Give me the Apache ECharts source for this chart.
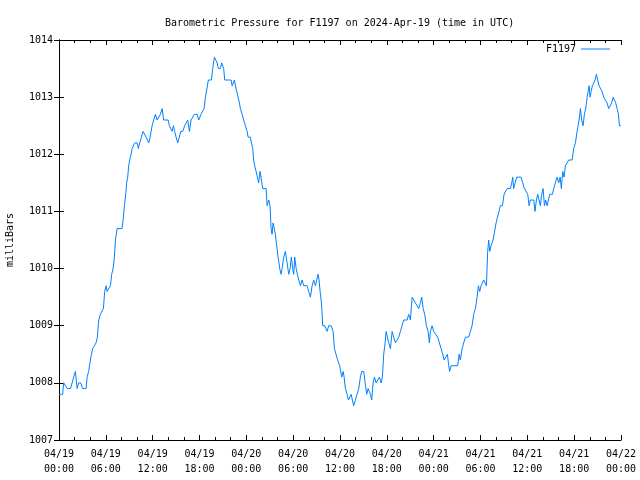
<!DOCTYPE html>
<html>
<head>
<meta charset="utf-8">
<script src="https://cdn.jsdelivr.net/npm/echarts@6/dist/echarts.min.js"></script>
<style>html,body{margin:0;padding:0;background:#fff;}#c{width:640px;height:480px;}</style>
</head>
<body>
<div id="c"></div>
<script>
// hours since 2024-04-19 00:00 UTC
const hours = [0.00,0.47,0.60,1.04,1.46,1.68,1.88,2.10,2.32,2.52,2.78,3.04,3.47,3.60,3.80,4.02,4.15,4.32,4.54,4.75,4.92,5.09,5.30,5.52,5.69,5.85,6.03,6.16,6.37,6.59,6.75,6.93,7.10,7.23,7.35,7.44,8.08,8.25,8.38,8.55,8.67,8.80,8.93,9.06,9.24,9.37,9.53,9.70,10.01,10.17,10.34,10.56,10.77,10.94,11.16,11.36,11.49,11.67,11.93,12.13,12.35,12.57,12.77,12.99,13.21,13.41,13.98,14.14,14.49,14.66,14.82,15.00,15.21,15.42,15.59,15.85,16.10,16.49,16.71,16.92,17.13,17.35,17.69,17.90,18.03,18.20,18.41,18.59,18.76,18.97,19.14,19.52,19.69,19.91,20.13,20.26,20.42,20.68,20.84,20.97,21.10,21.23,22.05,22.18,22.30,22.47,22.60,22.77,22.94,23.11,23.24,23.46,23.66,23.88,24.10,24.23,24.52,24.65,24.82,24.94,25.07,25.25,25.42,25.58,25.76,25.93,26.10,26.53,26.66,26.87,27.04,27.17,27.30,27.43,27.56,27.72,27.89,28.07,28.28,28.45,28.58,28.79,29.00,29.22,29.43,29.61,29.77,29.94,30.07,30.20,30.38,30.54,30.71,30.93,31.14,31.35,31.78,31.99,32.21,32.43,32.63,32.85,33.01,33.19,33.32,33.45,33.62,33.71,33.78,34.04,34.35,34.55,34.86,35.12,35.28,35.50,35.70,35.96,36.22,36.40,36.53,36.69,36.91,37.08,37.24,37.42,37.59,37.75,37.97,38.19,38.40,38.61,38.78,39.04,39.22,39.42,39.60,39.77,39.89,40.06,40.24,40.41,40.63,40.83,41.05,41.27,41.43,41.60,41.78,41.91,42.07,42.24,42.46,42.68,42.88,43.10,43.32,43.52,43.74,43.96,44.16,44.38,44.60,44.80,45.02,45.24,45.44,45.66,45.88,46.08,46.30,46.47,46.65,46.85,47.07,47.29,47.45,47.58,47.80,48.00,48.22,48.52,48.73,48.95,49.16,49.34,49.54,49.76,49.93,50.05,50.23,51.08,51.26,51.42,51.64,51.85,52.07,52.49,52.71,52.92,53.13,53.35,53.56,53.73,53.90,54.08,54.41,54.63,54.76,54.92,55.05,55.18,55.36,55.61,55.82,56.00,56.17,56.38,56.55,56.81,57.02,57.23,57.41,57.83,58.00,58.13,58.25,58.43,58.64,59.20,59.41,59.62,59.84,60.05,60.23,60.39,60.61,60.82,60.99,61.16,61.33,61.51,61.67,61.84,62.02,62.19,62.35,62.53,62.70,62.86,63.21,63.38,63.60,63.81,64.02,64.20,64.36,64.53,64.71,64.87,65.09,65.30,65.74,65.94,66.16,66.38,66.50,66.63,66.80,66.96,67.14,67.31,67.48,67.66,67.79,67.91,68.04,68.17,68.34,68.50,68.68,68.85,69.01,69.19,69.36,69.58,69.78,70.00,70.22,70.42,70.64,70.81,70.99,71.15,71.32,71.50,71.67,71.80,72.00];
const pressure = [1007.8,1007.8,1008.0,1007.9,1007.9,1008.0,1008.1,1008.2,1007.9,1008.0,1008.0,1007.9,1007.9,1008.1,1008.2,1008.4,1008.5,1008.6,1008.6,1008.7,1008.8,1009.1,1009.2,1009.2,1009.3,1009.6,1009.7,1009.6,1009.6,1009.7,1009.9,1010.0,1010.2,1010.5,1010.6,1010.7,1010.7,1010.9,1011.1,1011.3,1011.5,1011.6,1011.8,1011.9,1012.0,1012.1,1012.1,1012.2,1012.2,1012.1,1012.2,1012.3,1012.4,1012.4,1012.3,1012.3,1012.2,1012.3,1012.5,1012.6,1012.7,1012.6,1012.6,1012.7,1012.8,1012.6,1012.6,1012.5,1012.4,1012.5,1012.4,1012.3,1012.2,1012.3,1012.4,1012.4,1012.5,1012.6,1012.4,1012.6,1012.6,1012.7,1012.7,1012.6,1012.6,1012.7,1012.7,1012.8,1013.0,1013.0,1013.3,1013.3,1013.5,1013.7,1013.7,1013.6,1013.5,1013.5,1013.6,1013.6,1013.5,1013.3,1013.3,1013.2,1013.2,1013.3,1013.2,1013.1,1013.0,1012.9,1012.8,1012.7,1012.6,1012.5,1012.4,1012.3,1012.3,1012.2,1012.1,1011.9,1011.8,1011.7,1011.7,1011.5,1011.7,1011.7,1011.4,1011.4,1011.1,1011.2,1011.1,1010.7,1010.6,1010.8,1010.8,1010.6,1010.4,1010.2,1010.0,1009.9,1010.0,1010.2,1010.3,1010.1,1009.9,1010.0,1010.2,1010.0,1009.9,1010.2,1010.0,1009.9,1009.8,1009.7,1009.8,1009.7,1009.7,1009.6,1009.5,1009.7,1009.8,1009.7,1009.7,1009.9,1009.8,1009.6,1009.4,1009.2,1009.0,1009.0,1008.9,1009.0,1009.0,1008.9,1008.6,1008.6,1008.4,1008.3,1008.1,1008.2,1008.1,1007.9,1007.8,1007.7,1007.7,1007.8,1007.7,1007.6,1007.7,1007.8,1007.9,1008.1,1008.2,1008.2,1008.0,1007.8,1007.9,1007.9,1007.8,1007.7,1008.0,1008.1,1008.0,1008.0,1008.1,1008.0,1008.1,1008.5,1008.7,1008.9,1008.8,1008.7,1008.6,1008.9,1008.8,1008.7,1008.7,1008.8,1008.9,1008.9,1009.1,1009.1,1009.1,1009.2,1009.1,1009.5,1009.5,1009.4,1009.4,1009.3,1009.4,1009.5,1009.3,1009.2,1009.0,1008.9,1008.7,1008.9,1009.0,1008.9,1008.9,1008.8,1008.7,1008.6,1008.5,1008.4,1008.4,1008.5,1008.3,1008.2,1008.3,1008.3,1008.5,1008.4,1008.6,1008.7,1008.8,1008.8,1008.9,1009.0,1009.2,1009.3,1009.5,1009.7,1009.6,1009.7,1009.8,1009.8,1009.7,1010.3,1010.5,1010.3,1010.4,1010.5,1010.5,1010.8,1010.9,1011.0,1011.1,1011.1,1011.3,1011.3,1011.4,1011.4,1011.5,1011.6,1011.4,1011.5,1011.6,1011.6,1011.5,1011.4,1011.4,1011.3,1011.1,1011.2,1011.2,1011.2,1011.0,1011.2,1011.3,1011.3,1011.1,1011.3,1011.4,1011.1,1011.2,1011.1,1011.2,1011.3,1011.3,1011.4,1011.5,1011.6,1011.5,1011.6,1011.4,1011.7,1011.6,1011.8,1011.8,1011.9,1011.9,1012.1,1012.2,1012.4,1012.5,1012.6,1012.8,1012.6,1012.5,1012.7,1012.8,1013.0,1013.1,1013.2,1013.0,1013.1,1013.2,1013.2,1013.3,1013.4,1013.3,1013.2,1013.2,1013.1,1013.0,1013.0,1012.9,1012.8,1012.8,1012.9,1013.0,1013.0,1012.9,1012.8,1012.7,1012.5,1012.5];
const xTickLabels = ['04/19\n00:00','04/19\n06:00','04/19\n12:00','04/19\n18:00','04/20\n00:00','04/20\n06:00','04/20\n12:00','04/20\n18:00','04/21\n00:00','04/21\n06:00','04/21\n12:00','04/21\n18:00','04/22\n00:00'];
const seriesName = 'F1197';

const FONT = 'DejaVu Sans Mono';
const chart = echarts.init(document.getElementById('c'), null, {renderer: 'canvas'});
const data = hours.map((h, i) => [h, pressure[i]]);
const axisLine = {show: true, lineStyle: {color: '#000', width: 1}};
chart.setOption({
  animation: false,
  backgroundColor: '#fff',
  title: {
    text: 'Barometric Pressure for F1197 on 2024-Apr-19 (time in UTC)',
    left: 160, top: 13,
    textStyle: {fontFamily: FONT, fontSize: 10, fontWeight: 'normal', color: '#000'}
  },
  legend: {
    data: [{name: seriesName, icon: 'rect'}],
    right: 25, top: 39, align: 'right',
    itemWidth: 29, itemHeight: 1,
    textStyle: {fontFamily: FONT, fontSize: 10, color: '#000'}
  },
  grid: {left: 59, right: 19, top: 40, bottom: 40, containLabel: false, outerBoundsMode: 'none'},
  xAxis: [{
    type: 'value', min: 0, max: 72, interval: 6,
    axisLine: axisLine,
    axisTick: {show: true, inside: true, length: 5, lineStyle: {color: '#000'}},
    minorTick: {show: true, splitNumber: 3, length: 3, lineStyle: {color: '#000'}},
    splitLine: {show: false},
    axisLabel: {fontFamily: FONT, fontSize: 10, color: '#000', margin: 7, lineHeight: 15,
      formatter: v => xTickLabels[Math.round(v / 6)]}
  }, {
    type: 'value', min: 0, max: 72, interval: 6, position: 'top',
    axisLine: axisLine,
    axisTick: {show: true, inside: true, length: 5, lineStyle: {color: '#000'}},
    minorTick: {show: true, splitNumber: 3, length: 3, lineStyle: {color: '#000'}},
    splitLine: {show: false}, axisLabel: {show: false}
  }],
  yAxis: [{
    type: 'value', min: 1007, max: 1014, interval: 1,
    name: 'milliBars', nameLocation: 'middle', nameGap: 44, nameRotate: 90,
    nameTextStyle: {fontFamily: FONT, fontSize: 10, color: '#000'},
    axisLine: axisLine,
    axisTick: {show: true, inside: true, length: 5, lineStyle: {color: '#000'}},
    splitLine: {show: false},
    axisLabel: {fontFamily: FONT, fontSize: 10, color: '#000', margin: 6,
      formatter: v => String(v)}
  }, {
    type: 'value', min: 1007, max: 1014, interval: 1, position: 'right',
    axisLine: axisLine,
    axisTick: {show: true, inside: true, length: 5, lineStyle: {color: '#000'}},
    splitLine: {show: false}, axisLabel: {show: false}
  }],
  series: [{
    name: seriesName, type: 'line', data: data,
    showSymbol: false, symbol: 'none',
    lineStyle: {color: '#0080ff', width: 1},
    itemStyle: {color: '#0080ff'}
  }]
});
</script>
</body>
</html>
